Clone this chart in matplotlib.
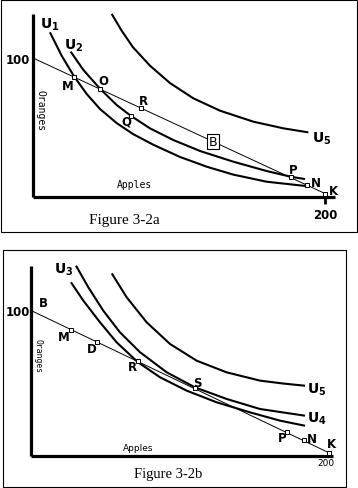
import matplotlib
matplotlib.use("Agg")
import matplotlib.pyplot as plt
from matplotlib.patches import Rectangle

W, H = 358, 489

# ---- Figure 3-2a data ----
a_u1_x = [11.6, 19.6, 28.1, 36.8, 45.9, 57.3, 68.5, 82.4, 100.7, 119.0, 137.2, 160.0, 187.7]
a_u1_y = [118.5, 101.7, 86.8, 74.1, 63.3, 53.2, 45.3, 37.6, 28.8, 21.8, 16.1, 11.0, 7.8]
a_u2_x = [25.8, 34.5, 45.9, 57.3, 66.9, 80.1, 96.1, 114.4, 137.2, 160.0, 176.5, 186.3]
a_u2_y = [104.6, 91.4, 77.9, 66.2, 58.5, 49.4, 41.0, 33.1, 25.4, 18.7, 14.6, 12.9]
a_u5_x = [53.9, 60.7, 68.5, 80.1, 93.8, 109.8, 128.1, 150.9, 171.5, 188.6]
a_u5_y = [131.7, 119.7, 107.7, 94.5, 82.0, 71.0, 62.1, 54.2, 49.4, 46.5]
a_line_x = [0, 200.0]
a_line_y = [100, 2.5]
a_pt_names = ["M", "O", "R", "Q", "P", "N", "K"]
a_pt_x = [28.1, 45.9, 73.7, 66.9, 176.5, 187.7, 200.0]
a_pt_y = [86.5, 77.7, 64.1, 58.5, 14.3, 8.4, 2.5]

# ---- Figure 3-2b data ----
b_u3_x = [26.8, 35.1, 46.3, 57.5, 71.6, 86.6, 104.5, 124.6, 147.0, 167.1, 183.9]
b_u3_y = [119.4, 106.8, 91.9, 78.1, 64.6, 54.1, 44.9, 36.9, 30.0, 24.3, 20.8]
b_u4_x = [30.2, 38.5, 48.5, 59.7, 73.2, 91.1, 110.0, 131.3, 153.7, 183.9]
b_u4_y = [130.8, 115.9, 99.9, 85.0, 71.3, 57.5, 47.2, 39.2, 32.3, 27.7]
b_u5_x = [54.2, 64.2, 77.6, 93.3, 111.2, 131.3, 153.7, 169.3, 183.9]
b_u5_y = [125.5, 109.1, 91.9, 77.0, 65.5, 57.5, 51.8, 49.8, 48.3]
b_line_x = [0, 200.2]
b_line_y = [100, 2.1]
b_pt_names = ["M", "D", "R", "S", "P", "N", "K"]
b_pt_x = [26.8, 44.5, 71.6, 110.0, 172.0, 183.2, 200.2]
b_pt_y = [86.9, 78.2, 65.0, 46.7, 16.8, 10.9, 2.1]

fig = plt.figure(figsize=(W / 100, H / 100), dpi=100)
fig.patch.set_facecolor("white")


def frac(x, y):
    return x / W, 1 - y / H


def make_axes(x0, y0, x1, y1, xmax, ymax):
    ax = fig.add_axes([x0 / W, 1 - y0 / H, (x1 - x0) / W, (y0 - y1) / H])
    ax.set_xlim(0, xmax)
    ax.set_ylim(0, ymax)
    ax.set_facecolor("none")
    for s in ["top", "right"]:
        ax.spines[s].set_visible(False)
    for s in ["left", "bottom"]:
        ax.spines[s].set_linewidth(2.3)
        ax.spines[s].set_capstyle("butt")
    ax.set_xticks([])
    ax.set_yticks([])
    return ax


def draw_panel(ax, curves, lx, ly, names, px, py, offsets):
    for cx, cy in curves:
        ax.plot(cx, cy, color="black", lw=1.5, solid_capstyle="butt",
                solid_joinstyle="round", clip_on=False)
    ax.plot(lx, ly, color="black", lw=0.7, clip_on=False)
    ax.plot(px, py, ls="none", marker="s", ms=3.2, mfc="white", mec="black", mew=0.7,
            clip_on=False, zorder=5)
    for n, x, y, (dx, dy) in zip(names, px, py, offsets):
        ax.annotate(n, (x, y), xytext=(dx, dy), textcoords="offset pixels",
                    ha="center", va="center", fontsize=8.5, fontweight="bold",
                    family="DejaVu Sans")


# panel borders
fig.patches.append(Rectangle(frac(0.5, 233), 356.5 / W, 232.5 / H, transform=fig.transFigure,
                             fill=False, ec="black", lw=0.8))
fig.patches.append(Rectangle(frac(3, 488), 343 / W, 237 / H, transform=fig.transFigure,
                             fill=False, ec="black", lw=0.8))

# ---- panel a ----
ax1 = make_axes(33, 198, 335, 15, (335 - 33) / 1.46, (198 - 15) / 1.39)
draw_panel(ax1, [(a_u1_x, a_u1_y), (a_u2_x, a_u2_y), (a_u5_x, a_u5_y)],
           a_line_x, a_line_y, a_pt_names, a_pt_x, a_pt_y,
           [(-6.5, -8.5), (3, 8), (2.5, 7.5), (-4, -5), (2.5, 7.5), (8.5, 3), (8, 3)])
ax1.set_xticks([200])
ax1.set_xticklabels(["200"])
ax1.tick_params(axis="x", length=5, width=2, direction="out", pad=3, labelsize=8.5)
for t in ax1.get_xticklabels():
    t.set_fontweight("bold")
ax1.text(123.3, 39.8, "B", ha="center", va="center", fontsize=9,
         bbox=dict(boxstyle="square,pad=0.1", fc="white", ec="black", lw=0.8))
fig.text(*frac(18, 61), "100", ha="center", va="center", fontsize=8.5, fontweight="bold")
fig.text(*frac(41, 111), "Oranges", ha="center", va="center", rotation=270,
         fontsize=7, family="DejaVu Sans Mono")
fig.text(*frac(134, 185), "Apples", ha="center", va="center", fontsize=7,
         family="DejaVu Sans Mono")
fig.text(*frac(124, 221), "Figure 3-2a", ha="center", va="center", fontsize=11,
         family="Liberation Serif")
fig.text(*frac(40, 25), r"$\mathbf{U_1}$", ha="left", va="center", fontsize=10)
fig.text(*frac(64, 46), r"$\mathbf{U_2}$", ha="left", va="center", fontsize=10)
fig.text(*frac(312, 139), r"$\mathbf{U_5}$", ha="left", va="center", fontsize=10)

# ---- panel b ----
ax2 = make_axes(31, 457, 333, 267, (333 - 31) / 1.49, (457 - 267) / 1.455)
draw_panel(ax2, [(b_u3_x, b_u3_y), (b_u4_x, b_u4_y), (b_u5_x, b_u5_y)],
           b_line_x, b_line_y, b_pt_names, b_pt_x, b_pt_y,
           [(-7.5, -7), (-6, -6), (-5.5, -5.5), (2.5, 5.5), (-5, -5.5), (8, 1.5), (2, 9.5)])
ax2.annotate("B", (0, 100), xytext=(12.5, 8), textcoords="offset pixels", ha="center",
             va="center", fontsize=8.5, fontweight="bold")
fig.text(*frac(326, 464), "200", ha="center", va="center", fontsize=6.5)
fig.text(*frac(18, 313), "100", ha="center", va="center", fontsize=8.5, fontweight="bold")
fig.text(*frac(38, 356), "Oranges", ha="center", va="center", rotation=270,
         fontsize=5.8, family="DejaVu Sans Mono")
fig.text(*frac(138, 449), "Apples", ha="center", va="center", fontsize=6.5)
fig.text(*frac(168, 475), "Figure 3-2b", ha="center", va="center", fontsize=10.5,
         family="Liberation Serif")
fig.text(*frac(54, 270), r"$\mathbf{U_3}$", ha="left", va="center", fontsize=10)
fig.text(*frac(307, 419), r"$\mathbf{U_4}$", ha="left", va="center", fontsize=10)
fig.text(*frac(307, 390), r"$\mathbf{U_5}$", ha="left", va="center", fontsize=10)

fig.savefig("out.png", dpi=100)
